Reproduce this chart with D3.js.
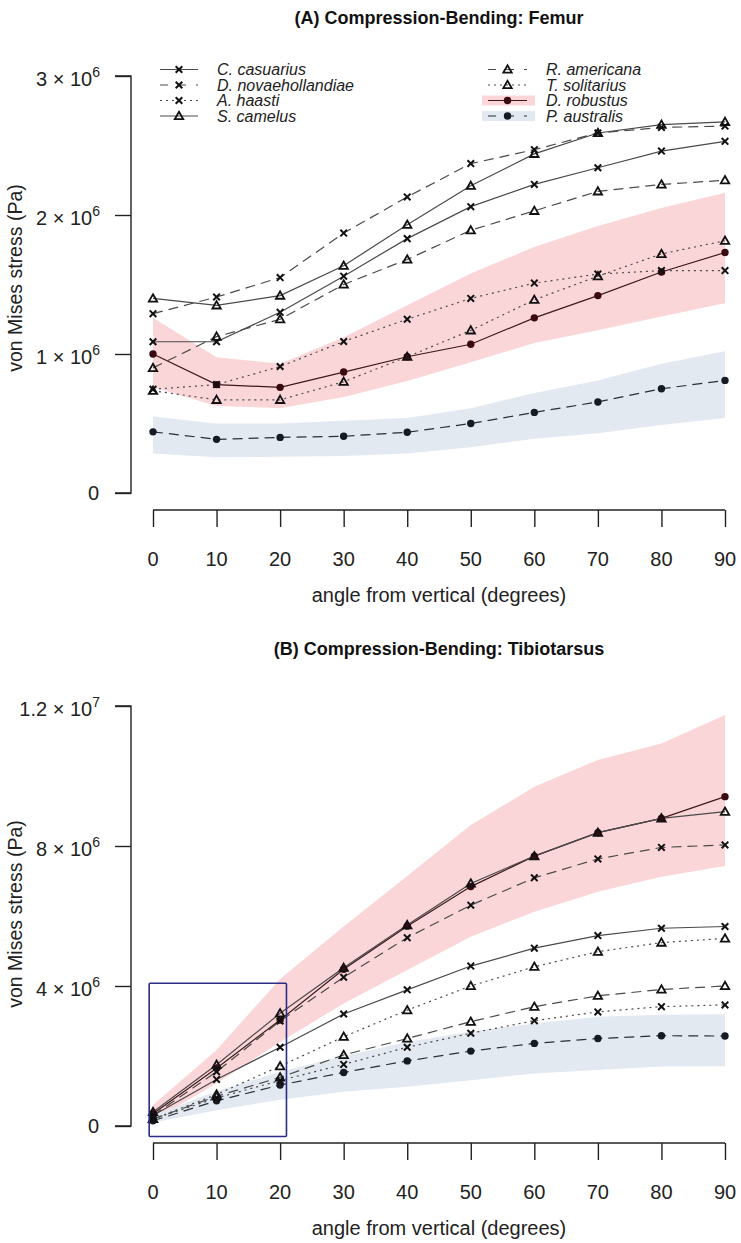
<!DOCTYPE html>
<html><head><meta charset="utf-8">
<script src="https://cdn.jsdelivr.net/npm/d3@7"></script>
<style>body{margin:0;background:#fff}svg{display:block}text{font-family:"Liberation Sans",Arial,Helvetica,sans-serif}</style>
</head><body><svg id="c" width="741" height="1243"></svg>
<script>
// ---------- DATA ----------
const angles = [0,10,20,30,40,50,60,70,80,90];
const species = ["C. casuarius","D. novaehollandiae","A. haasti","S. camelus","R. americana","T. solitarius","D. robustus","P. australis"];

// Panel A: Femur (Pa)
const femurCasuarius   = [1.088e6,1.088e6,1.30e6,1.56e6,1.83e6,2.06e6,2.22e6,2.34e6,2.46e6,2.53e6];
const femurNovae       = [1.29e6,1.41e6,1.55e6,1.87e6,2.13e6,2.37e6,2.47e6,2.59e6,2.63e6,2.64e6];
const femurHaasti      = [0.746e6,0.78e6,0.91e6,1.09e6,1.25e6,1.40e6,1.51e6,1.575e6,1.60e6,1.60e6];
const femurCamelus     = [1.40e6,1.35e6,1.42e6,1.635e6,1.93e6,2.21e6,2.44e6,2.59e6,2.65e6,2.67e6];
const femurAmericana   = [0.90e6,1.125e6,1.25e6,1.50e6,1.68e6,1.89e6,2.03e6,2.17e6,2.22e6,2.25e6];
const femurSolitarius  = [0.736e6,0.67e6,0.67e6,0.80e6,0.98e6,1.17e6,1.39e6,1.56e6,1.72e6,1.815e6];
const femurRobustus    = [1.00e6,0.78e6,0.76e6,0.87e6,0.98e6,1.07e6,1.26e6,1.42e6,1.59e6,1.73e6];
const femurRobustusLo  = [0.76e6,0.626e6,0.61e6,0.69e6,0.805e6,0.94e6,1.08e6,1.17e6,1.27e6,1.365e6];
const femurRobustusHi  = [1.26e6,0.976e6,0.93e6,1.12e6,1.35e6,1.58e6,1.77e6,1.92e6,2.05e6,2.16e6];
const femurAustralis   = [0.44e6,0.386e6,0.40e6,0.408e6,0.437e6,0.50e6,0.58e6,0.655e6,0.75e6,0.81e6];
const femurAustralisLo = [0.285e6,0.257e6,0.26e6,0.266e6,0.285e6,0.33e6,0.39e6,0.43e6,0.49e6,0.54e6];
const femurAustralisHi = [0.55e6,0.50e6,0.50e6,0.52e6,0.54e6,0.61e6,0.72e6,0.81e6,0.93e6,1.02e6];
const femurTicks = [0,1e6,2e6,3e6];
const femurTickLabels = [["0",""],["1","6"],["2","6"],["3","6"]];

// Panel B: Tibiotarsus (Pa)
const tibCasuarius   = [0.30e6,1.33e6,2.25e6,3.20e6,3.89e6,4.57e6,5.08e6,5.44e6,5.65e6,5.70e6];
const tibNovae       = [0.30e6,1.55e6,3.00e6,4.25e6,5.38e6,6.31e6,7.09e6,7.63e6,7.96e6,8.03e6];
const tibHaasti      = [0.20e6,0.80e6,1.30e6,1.76e6,2.25e6,2.65e6,3.01e6,3.26e6,3.41e6,3.46e6];
const tibCamelus     = [0.40e6,1.75e6,3.22e6,4.52e6,5.74e6,6.93e6,7.71e6,8.38e6,8.79e6,8.98e6];
const tibAmericana   = [0.20e6,0.85e6,1.39e6,2.03e6,2.50e6,2.98e6,3.41e6,3.72e6,3.90e6,4.00e6];
const tibSolitarius  = [0.20e6,0.90e6,1.71e6,2.55e6,3.31e6,4.00e6,4.55e6,4.98e6,5.24e6,5.36e6];
const tibRobustus    = [0.35e6,1.65e6,3.03e6,4.48e6,5.71e6,6.84e6,7.71e6,8.38e6,8.79e6,9.41e6];
const tibRobustusLo  = [0.15e6,1.22e6,2.40e6,3.50e6,4.46e6,5.41e6,6.12e6,6.69e6,7.12e6,7.43e6];
const tibRobustusHi  = [0.60e6,2.17e6,4.20e6,5.70e6,7.14e6,8.60e6,9.69e6,10.46e6,10.93e6,11.74e6];
const tibAustralis   = [0.15e6,0.72e6,1.17e6,1.53e6,1.86e6,2.14e6,2.36e6,2.50e6,2.58e6,2.57e6];
const tibAustralisLo = [0.10e6,0.45e6,0.75e6,0.98e6,1.12e6,1.31e6,1.50e6,1.60e6,1.70e6,1.71e6];
const tibAustralisHi = [0.30e6,1.00e6,1.55e6,2.00e6,2.40e6,2.70e6,2.93e6,3.12e6,3.18e6,3.19e6];
const tibTicks = [0,4e6,8e6,12e6];
const tibTickLabels = [["0",""],["4","6"],["8","6"],["1.2","7"]];
const zoomBox = {x0:-0.6, x1:21, y0:-0.3e6, y1:4.08e6};

const xTicks = angles;
const titles = ["(A)  Compression-Bending: Femur","(B)  Compression-Bending: Tibiotarsus"];
const xTitle = "angle from vertical (degrees)";
const yTitle = "von Mises stress (Pa)";

// ---------- STYLES ----------
const styles = {
  "C. casuarius":      {dash:null,   marker:"x",   line:"#4a4a4a", mk:"#111"},
  "D. novaehollandiae":{dash:"10,6", marker:"x",   line:"#4a4a4a", mk:"#111"},
  "A. haasti":         {dash:"2,4",  marker:"x",   line:"#4a4a4a", mk:"#111"},
  "S. camelus":        {dash:null,   marker:"tri", line:"#4a4a4a", mk:"#111"},
  "R. americana":      {dash:"10,6", marker:"tri", line:"#4a4a4a", mk:"#111"},
  "T. solitarius":     {dash:"2,4",  marker:"tri", line:"#4a4a4a", mk:"#111"},
  "D. robustus":       {dash:null,   marker:"dot", line:"#3c1a1c", mk:"#3a0a10", band:"#fbd6d8"},
  "P. australis":      {dash:"10,6", marker:"dot", line:"#2a2e38", mk:"#151a25", band:"#e3e9f0"}
};

const svg = d3.select("#c");

function drawMarker(g, type, cx, cy, color){
  if(type==="x"){
    const s=3.3;
    g.append("path").attr("d",`M${cx-s},${cy-s}L${cx+s},${cy+s}M${cx-s},${cy+s}L${cx+s},${cy-s}`)
      .attr("stroke",color).attr("stroke-width",2).attr("fill","none");
  } else if(type==="tri"){
    const s=4.2;
    g.append("path").attr("d",`M${cx},${cy-s}L${cx+s},${cy+s*0.75}L${cx-s},${cy+s*0.75}Z`)
      .attr("stroke",color).attr("stroke-width",1.8).attr("fill","none").attr("stroke-linejoin","miter");
  } else {
    g.append("circle").attr("cx",cx).attr("cy",cy).attr("r",3.7).attr("fill",color);
  }
}

function panel(cfg){
  const x = d3.scaleLinear().domain([0,90]).range([153,725]);
  const y = d3.scaleLinear().domain([0,cfg.yMax]).range([cfg.y0,cfg.yTop]);
  const g = svg.append("g");

  g.append("text").attr("x",439).attr("y",cfg.titleY).attr("text-anchor","middle")
    .attr("font-weight","bold").attr("font-size",18).attr("fill","#111").text(cfg.title);

  cfg.bands.forEach(b=>{
    const area = d3.area().x((d,i)=>x(angles[i])).y0(d=>y(d[0])).y1(d=>y(d[1]));
    g.append("path").datum(b.lo.map((v,i)=>[v,b.hi[i]])).attr("d",area).attr("fill",styles[b.name].band);
  });

  const line = d3.line().x((d,i)=>x(angles[i])).y(d=>y(d));
  cfg.series.forEach(s=>{
    const st = styles[s.name];
    g.append("path").datum(s.vals).attr("d",line).attr("fill","none")
      .attr("stroke",st.line).attr("stroke-width",1.2)
      .attr("stroke-dasharray",st.dash);
  });
  cfg.series.forEach(s=>{
    const st = styles[s.name];
    s.vals.forEach((v,i)=>drawMarker(g,st.marker,x(angles[i]),y(v),st.mk));
  });

  // y axis
  const yAxis = d3.axisLeft(y).tickValues(cfg.ticks).tickSize(16).tickFormat("");
  const ya = g.append("g").attr("transform","translate(131,0)").call(yAxis);
  ya.select(".domain").attr("d",`M-16,${y(cfg.yMax)}H0V${y(0)}H-16`).attr("stroke","#222").attr("stroke-width",1.4);
  ya.selectAll(".tick line").attr("stroke","#222").attr("stroke-width",1.4);
  cfg.ticks.forEach((t,i)=>{
    const lab = cfg.tickLabels[i];
    const tx = g.append("text").attr("x",lab[1]?100:99).attr("y",y(t)+(lab[1]?9.5:7)).attr("text-anchor","end")
      .attr("font-size",20).attr("fill","#222");
    if(lab[1]){
      tx.append("tspan").text(lab[0] + " \u00d7 10");
      tx.append("tspan").attr("dy",-9).attr("font-size",14).text(lab[1]);
    } else tx.text(lab[0]);
  });
  g.append("text").attr("transform",`translate(22,${cfg.yTitleY}) rotate(-90)`)
    .attr("text-anchor","middle").attr("font-size",19.5).attr("fill","#222").text(yTitle);

  // x axis
  const xAxis = d3.axisBottom(x).tickValues(xTicks).tickSize(17).tickFormat("");
  const xa = g.append("g").attr("transform",`translate(0,${cfg.xAxisY})`).call(xAxis);
  xa.select(".domain").attr("d",`M153,0H725`).attr("stroke","#222").attr("stroke-width",1.4);
  xa.selectAll(".tick line").attr("stroke","#222").attr("stroke-width",1.4);
  xTicks.forEach(t=>{
    g.append("text").attr("x",x(t)).attr("y",cfg.xAxisY+56).attr("text-anchor","middle")
      .attr("font-size",20).attr("fill","#222").text(t);
  });
  g.append("text").attr("x",439).attr("y",cfg.xAxisY+92).attr("text-anchor","middle")
    .attr("font-size",20).attr("fill","#222").text(xTitle);

  if(cfg.box){
    g.append("rect").attr("x",x(cfg.box.x0)).attr("y",y(cfg.box.y1))
      .attr("width",x(cfg.box.x1)-x(cfg.box.x0)).attr("height",y(cfg.box.y0)-y(cfg.box.y1))
      .attr("fill","none").attr("stroke","#2b2d86").attr("stroke-width",1.6).attr("rx",1);
  }
  return g;
}

panel({
  title:titles[0], titleY:24, yMax:3e6, y0:493, yTop:76, xAxisY:510, yTitleY:278,
  ticks:femurTicks, tickLabels:femurTickLabels,
  bands:[{name:"D. robustus",lo:femurRobustusLo,hi:femurRobustusHi},{name:"P. australis",lo:femurAustralisLo,hi:femurAustralisHi}],
  series:[
    {name:"D. robustus",vals:femurRobustus},{name:"P. australis",vals:femurAustralis},
    {name:"C. casuarius",vals:femurCasuarius},{name:"D. novaehollandiae",vals:femurNovae},
    {name:"A. haasti",vals:femurHaasti},{name:"S. camelus",vals:femurCamelus},
    {name:"R. americana",vals:femurAmericana},{name:"T. solitarius",vals:femurSolitarius}
  ]
});

panel({
  title:titles[1], titleY:655, yMax:12e6, y0:1126, yTop:706, xAxisY:1143, yTitleY:914,
  ticks:tibTicks, tickLabels:tibTickLabels, box:zoomBox,
  bands:[{name:"D. robustus",lo:tibRobustusLo,hi:tibRobustusHi},{name:"P. australis",lo:tibAustralisLo,hi:tibAustralisHi}],
  series:[
    {name:"D. robustus",vals:tibRobustus},{name:"P. australis",vals:tibAustralis},
    {name:"C. casuarius",vals:tibCasuarius},{name:"D. novaehollandiae",vals:tibNovae},
    {name:"A. haasti",vals:tibHaasti},{name:"S. camelus",vals:tibCamelus},
    {name:"R. americana",vals:tibAmericana},{name:"T. solitarius",vals:tibSolitarius}
  ]
});

// legend (panel A)
const leg = svg.append("g");
species.forEach((name,i)=>{
  const col = i<4?0:1, row = i%4;
  const lx0 = col?488:160, lx1 = col?527:198, tx = col?546:217;
  const ly = 69.5 + row*15.5;
  const st = styles[name];
  if(st.band){
    leg.append("rect").attr("x",lx0-6).attr("y",ly-5).attr("width",lx1-lx0+14).attr("height",10).attr("fill",st.band);
  }
  leg.append("line").attr("x1",lx0).attr("x2",lx1).attr("y1",ly).attr("y2",ly)
    .attr("stroke",st.line).attr("stroke-width",1.2).attr("stroke-dasharray",st.dash?(st.dash==="2,4"?"2,4":"8,10"):null);
  drawMarker(leg,st.marker,(lx0+lx1)/2,ly,st.mk);
  leg.append("text").attr("x",tx).attr("y",ly+5.5).attr("font-size",16).attr("font-style","italic")
    .attr("fill","#222").text(name);
});
</script></body></html>
